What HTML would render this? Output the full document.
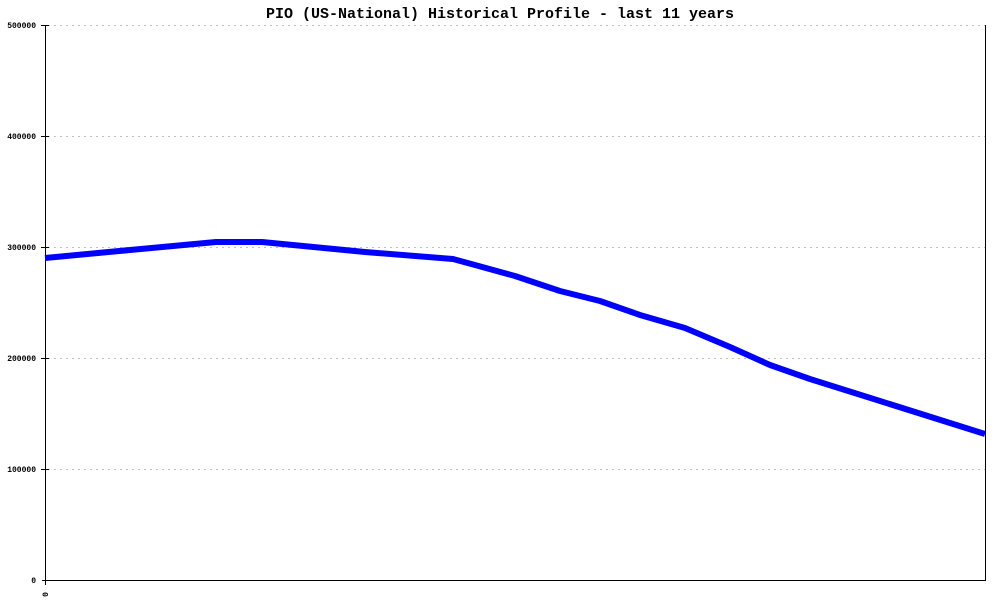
<!DOCTYPE html>
<html><head><style>body{margin:0;background:#fff}</style></head><body>
<svg width="1000" height="600" xmlns="http://www.w3.org/2000/svg" style="display:block">
<rect width="1000" height="600" fill="#fff"/>
<text x="500" y="18" text-anchor="middle" font-family="Liberation Mono, monospace" font-size="15" font-weight="bold">PIO (US-National) Historical Profile - last 11 years</text>
<g stroke="#c0c0c0" stroke-dasharray="2,4" stroke-width="1">
<line x1="48" y1="25.5" x2="985" y2="25.5"/><line x1="48" y1="136.5" x2="985" y2="136.5"/>
<line x1="48" y1="247.5" x2="985" y2="247.5"/><line x1="48" y1="358.5" x2="985" y2="358.5"/>
<line x1="48" y1="469.5" x2="985" y2="469.5"/></g>
<g stroke="#000" stroke-width="1">
<line x1="45.5" y1="25" x2="45.5" y2="585"/><line x1="42" y1="580.5" x2="986" y2="580.5"/>
<line x1="985.5" y1="25" x2="985.5" y2="580"/>
<line x1="41" y1="25.5" x2="49" y2="25.5"/><line x1="41" y1="136.5" x2="49" y2="136.5"/>
<line x1="41" y1="247.5" x2="49" y2="247.5"/><line x1="41" y1="358.5" x2="49" y2="358.5"/>
<line x1="41" y1="469.5" x2="49" y2="469.5"/></g>
<g font-family="Liberation Mono, monospace" font-size="8" font-weight="bold" text-anchor="end">
<text x="36" y="28">500000</text><text x="36" y="139">400000</text><text x="36" y="250">300000</text>
<text x="36" y="361">200000</text><text x="36" y="472">100000</text><text x="36" y="583">0</text></g>
<text x="0" y="0" transform="translate(48,592) rotate(-90)" font-family="Liberation Mono, monospace" font-size="8" font-weight="bold" text-anchor="end">0</text>
<polyline fill="none" stroke="#0000ff" stroke-width="6" stroke-linejoin="round" points="45,258 130,250 216,242 262,242 365,252 453,259 475,265 515,276 560,291 600,301 640,315 685,328 730,347 770,365 810,379 985,434"/>
</svg>
</body></html>
